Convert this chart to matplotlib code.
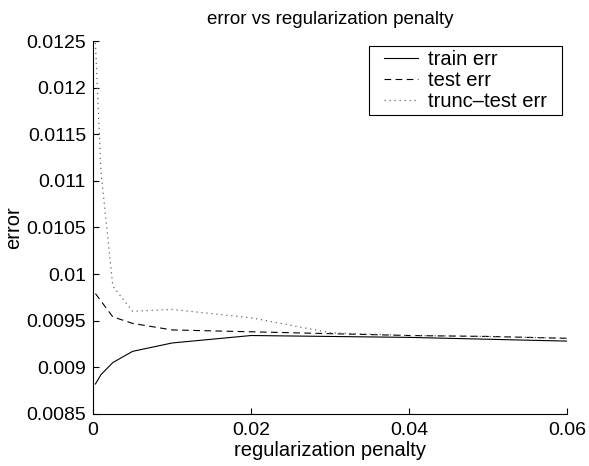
import matplotlib
matplotlib.use("Agg")
import matplotlib.pyplot as plt
from matplotlib.patches import Rectangle
from matplotlib.ticker import FuncFormatter
from matplotlib.transforms import IdentityTransform

# regularization penalty values
penalty = [0.0003, 0.001, 0.0025, 0.005, 0.01, 0.02, 0.03, 0.04, 0.05, 0.06]

train_err = [0.00882, 0.00892, 0.00905, 0.00917, 0.00926, 0.00934, 0.00933, 0.00932, 0.00930, 0.00928]
test_err = [0.00979, 0.00971, 0.00954, 0.00947, 0.00940, 0.00938, 0.00936, 0.00934, 0.00933, 0.00931]
trunc_test_err = [0.01248, 0.01110, 0.00987, 0.00960, 0.00962, 0.00953, 0.00937, 0.00934, 0.00933, 0.00931]

plt.rcParams["font.family"] = ["Liberation Sans", "DejaVu Sans"]

fig = plt.figure(figsize=(5.89, 4.66), dpi=100)
ax = fig.add_axes([0.158, 0.112, 0.805, 0.8])

ax.plot(penalty, train_err, color="black", linestyle="-", linewidth=0.8, label="train err")
ax.plot(penalty, test_err, color="black", linestyle=(0, (6, 4)), linewidth=0.8, label="test err")
ax.plot(penalty, trunc_test_err, color="#666666", linestyle=(0, (1, 3)), linewidth=0.9, label="trunc\u2013test err")

ax.set_xlim(0, 0.06)
ax.set_ylim(0.0085, 0.0125)
ax.set_xticks([0, 0.02, 0.04, 0.06])
ax.set_yticks([0.0085, 0.009, 0.0095, 0.01, 0.0105, 0.011, 0.0115, 0.012, 0.0125])
ax.xaxis.set_major_formatter(FuncFormatter(lambda v, p: "%g" % v))
ax.yaxis.set_major_formatter(FuncFormatter(lambda v, p: "%g" % v))
ax.tick_params(direction="in", length=4, width=0.8, labelsize=14)
ax.tick_params(axis="y", pad=5)
ax.tick_params(axis="x", pad=6)
ax.spines["top"].set_visible(False)
ax.spines["right"].set_visible(False)

ax.set_title("error vs regularization penalty", fontsize=13.5, pad=12)
ax.set_xlabel("regularization penalty", fontsize=14.5, labelpad=1)
ax.set_ylabel("error", fontsize=14.5, labelpad=2)

# legend without its own frame, a wider box is drawn round it afterwards
leg = ax.legend(loc="upper right", bbox_to_anchor=(0.966, 0.987), fontsize=14.5,
                frameon=False, handlelength=1.7, handletextpad=0.5,
                borderpad=0.2, labelspacing=0.1, borderaxespad=0.0)

fig.canvas.draw()
bb = leg.get_window_extent()
extra = 11
box = Rectangle((bb.x0 - extra, bb.y0), bb.width + 2 * extra, bb.height,
                transform=IdentityTransform(), facecolor="white",
                edgecolor="black", linewidth=0.8, zorder=4)
fig.add_artist(box)
leg.set_zorder(5)
fig.add_artist(leg)

fig.savefig("out.png", dpi=100)
